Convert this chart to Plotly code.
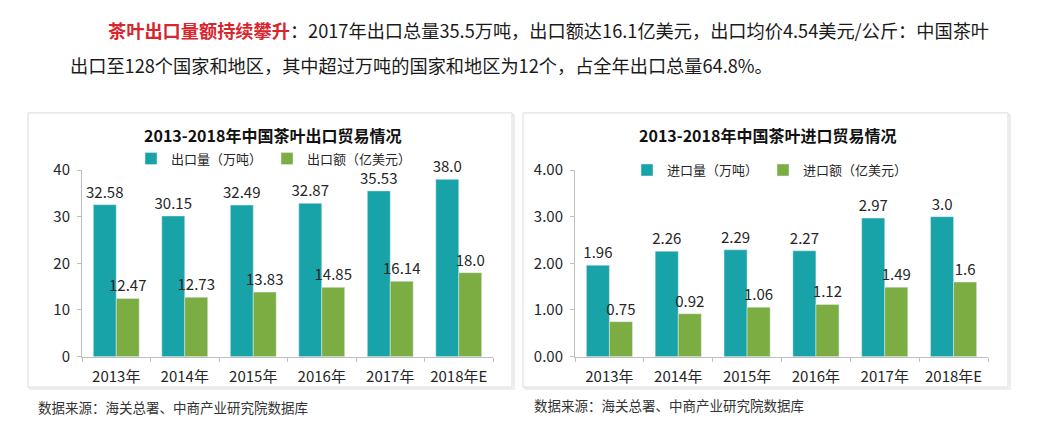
import plotly.graph_objects as go

W, H = 1041, 438

categories = ["2013年", "2014年", "2015年", "2016年", "2017年", "2018年E"]
export_volume = [32.58, 30.15, 32.49, 32.87, 35.53, 38.0]
export_value = [12.47, 12.73, 13.83, 14.85, 16.14, 18.0]
export_volume_txt = ["32.58", "30.15", "32.49", "32.87", "35.53", "38.0"]
export_value_txt = ["12.47", "12.73", "13.83", "14.85", "16.14", "18.0"]
import_volume = [1.96, 2.26, 2.29, 2.27, 2.97, 3.0]
import_value = [0.75, 0.92, 1.06, 1.12, 1.49, 1.6]
import_volume_txt = ["1.96", "2.26", "2.29", "2.27", "2.97", "3.0"]
import_value_txt = ["0.75", "0.92", "1.06", "1.12", "1.49", "1.6"]
left_ticks = [0, 10, 20, 30, 40]
right_ticks = [0, 1, 2, 3, 4]
right_ticktext = ["0.00", "1.00", "2.00", "3.00", "4.00"]

TEAL = "#17A3A8"
GREEN = "#7BAD43"
TXT = "#262626"
FONT = "Noto Sans CJK SC, Noto Sans, sans-serif"


def px(x):
    return x / W


def py(y):
    return 1 - y / H


fig = go.Figure()

lbl_font = dict(family=FONT, size=15, color=TXT)
bar_common = dict(textposition="outside", textfont=lbl_font, cliponaxis=False,
                  constraintext="none")

fig.add_trace(go.Bar(x=categories, y=export_volume, name="出口量（万吨）", marker_color=TEAL,
                     text=export_volume_txt, xaxis="x", yaxis="y", legend="legend", **bar_common))
fig.add_trace(go.Bar(x=categories, y=export_value, name="出口额（亿美元）", marker_color=GREEN,
                     text=export_value_txt, xaxis="x", yaxis="y", legend="legend", **bar_common))
fig.add_trace(go.Bar(x=categories, y=import_volume, name="进口量（万吨）", marker_color=TEAL,
                     text=import_volume_txt, xaxis="x2", yaxis="y2", legend="legend2", **bar_common))
fig.add_trace(go.Bar(x=categories, y=import_value, name="进口额（亿美元）", marker_color=GREEN,
                     text=import_value_txt, xaxis="x2", yaxis="y2", legend="legend2", **bar_common))

axis_common = dict(showline=True, linecolor="#BFBFBF", linewidth=1, showgrid=False, zeroline=False,
                   ticks="outside", tickcolor="#BFBFBF", ticklen=4,
                   tickfont=dict(family=FONT, size=15, color=TXT))

ydom = [py(362), py(166)]

fig.update_layout(
    width=W, height=H,
    margin=dict(l=0, r=0, t=0, b=0),
    paper_bgcolor="white", plot_bgcolor="rgba(0,0,0,0)",
    barmode="group", bargap=0.33, bargroupgap=0,
    font=dict(family=FONT, color=TXT),
    xaxis=dict(domain=[px(82), px(493)], anchor="y", tickson="boundaries",
               ticklabelstandoff=6, **axis_common),
    yaxis=dict(domain=ydom, anchor="x", range=[0, 40], tickvals=left_ticks,
               ticklabelstandoff=4, **axis_common),
    xaxis2=dict(domain=[px(575), px(988)], anchor="y2", tickson="boundaries",
                ticklabelstandoff=6, **axis_common),
    yaxis2=dict(domain=ydom, anchor="x2", range=[0, 4], tickvals=right_ticks,
                ticktext=right_ticktext, ticklabelstandoff=4, **axis_common),
    legend=dict(orientation="h", x=px(131), y=py(154), xanchor="left", yanchor="middle",
                font=dict(family=FONT, size=13, color=TXT), bgcolor="rgba(0,0,0,0)",
                itemwidth=30, traceorder="normal"),
    legend2=dict(orientation="h", x=px(627), y=py(166), xanchor="left", yanchor="middle",
                 font=dict(family=FONT, size=13, color=TXT), bgcolor="rgba(0,0,0,0)",
                 itemwidth=30, traceorder="normal"),
    showlegend=True,
)

# panel boxes with subtle shadow
for x0, x1 in [(28, 512), (523, 1008)]:
    fig.add_shape(type="rect", xref="paper", yref="paper",
                  x0=px(x0 + 2), x1=px(x1 + 2), y0=py(396), y1=py(108),
                  line=dict(color="#EDEDED", width=2), fillcolor="rgba(0,0,0,0)", layer="below")
    fig.add_shape(type="rect", xref="paper", yref="paper",
                  x0=px(x0), x1=px(x1), y0=py(394), y1=py(106),
                  line=dict(color="#DCDCDC", width=1), fillcolor="white", layer="below")

# chart titles
fig.add_annotation(text="<b>2013-2018年中国茶叶出口贸易情况</b>", xref="paper", yref="paper",
                   x=px(272), y=py(129), showarrow=False, xanchor="center", yanchor="middle",
                   font=dict(family=FONT, size=16, color="#111111"))
fig.add_annotation(text="<b>2013-2018年中国茶叶进口贸易情况</b>", xref="paper", yref="paper",
                   x=px(767), y=py(129), showarrow=False, xanchor="center", yanchor="middle",
                   font=dict(family=FONT, size=16, color="#111111"))

# sources
fig.add_annotation(text="数据来源：海关总署、中商产业研究院数据库", xref="paper", yref="paper",
                   x=px(36), y=py(415), showarrow=False, xanchor="left", yanchor="middle",
                   font=dict(family=FONT, size=13.5, color="#333333"))
fig.add_annotation(text="数据来源：海关总署、中商产业研究院数据库", xref="paper", yref="paper",
                   x=px(532), y=py(413), showarrow=False, xanchor="left", yanchor="middle",
                   font=dict(family=FONT, size=13.5, color="#333333"))

# header paragraph
fig.add_annotation(
    text="<b><span style='color:#D7262E'>茶叶出口量额持续攀升</span></b>：2017年出口总量35.5万吨，出口额达16.1亿美元，出口均价4.54美元/公斤：中国茶叶",
    xref="paper", yref="paper", x=px(106), y=py(19), showarrow=False, xanchor="left", yanchor="middle",
    font=dict(family=FONT, size=18.2, color="#1a1a1a"))
fig.add_annotation(
    text="出口至128个国家和地区，其中超过万吨的国家和地区为12个，占全年出口总量64.8%。",
    xref="paper", yref="paper", x=px(68), y=py(56), showarrow=False, xanchor="left", yanchor="middle",
    font=dict(family=FONT, size=18.2, color="#1a1a1a"))

fig.write_html("out.html", config={"displayModeBar": False},
               post_script="document.body.style.margin='0';document.body.style.overflow='hidden';")
